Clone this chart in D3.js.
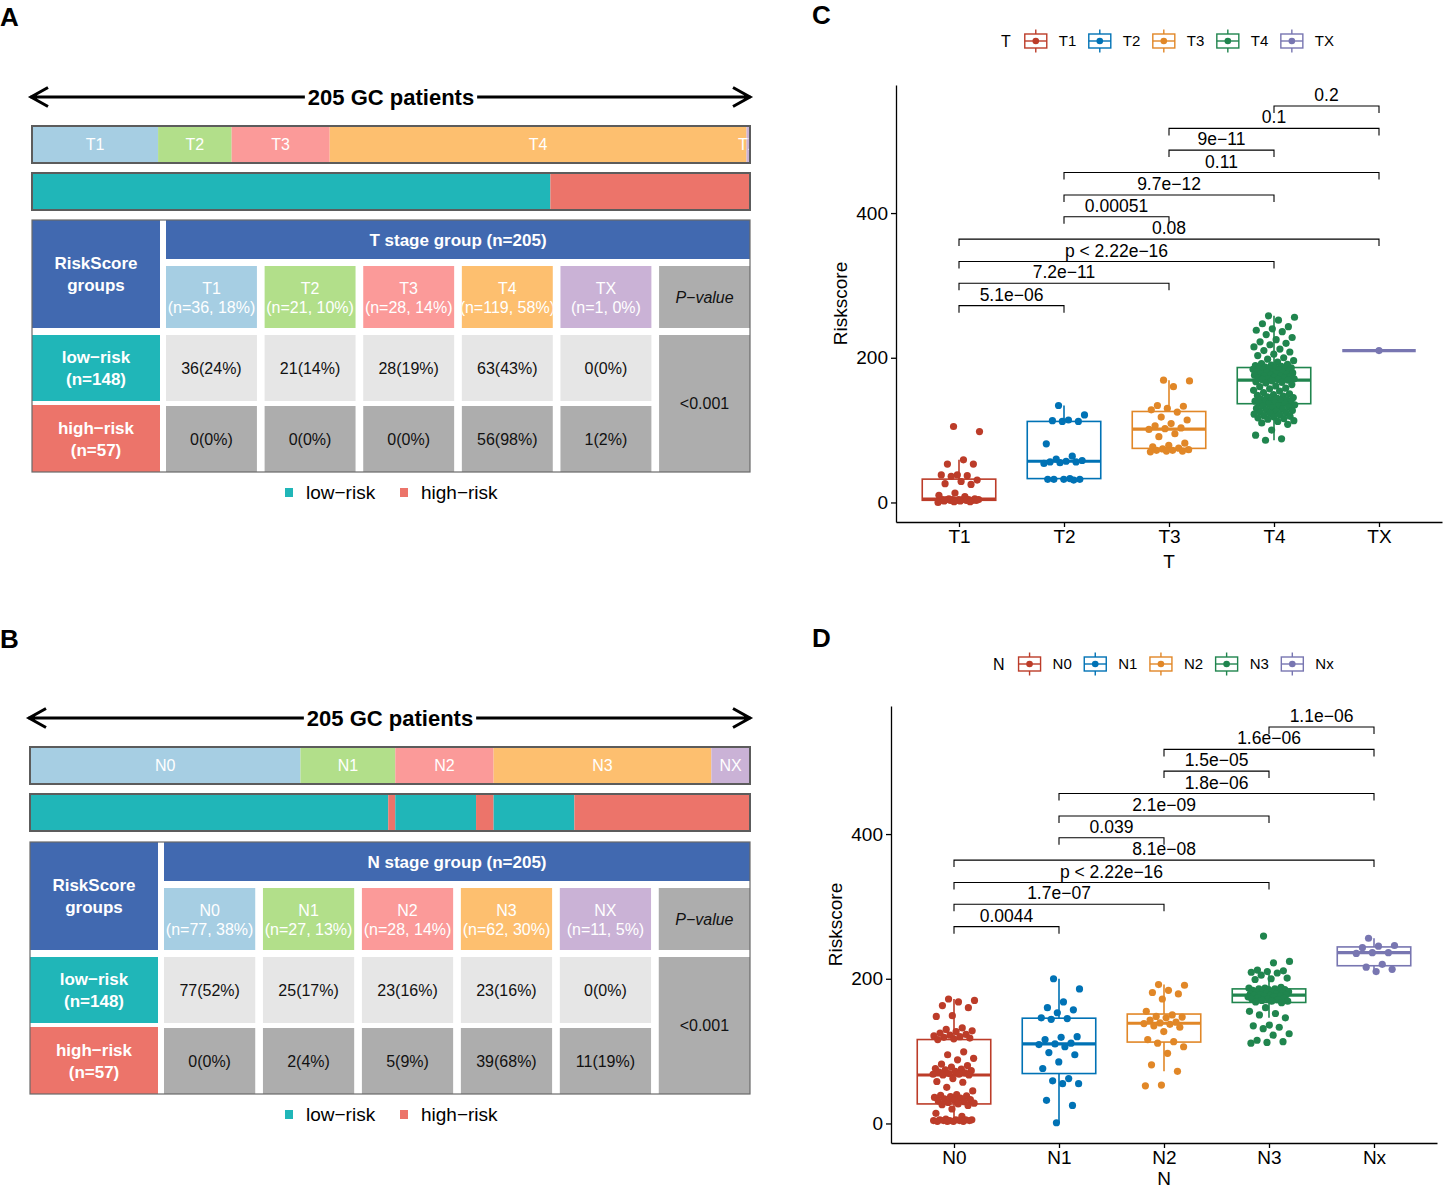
<!DOCTYPE html>
<html>
<head>
<meta charset="utf-8">
<script src="https://cdn.jsdelivr.net/npm/d3@7"></script>
<style>
  body { margin: 0; background: #fff; }
</style>
</head>
<body>
<svg id="fig" width="1444" height="1189"></svg>
<script>

// ---------- data ----------

const tStages = ["T1", "T2", "T3", "T4", "TX"]
const tLow = [36, 21, 28, 63, 0]
const tHigh = [0, 0, 0, 56, 1]

const nStages = ["N0", "N1", "N2", "N3", "NX"]
const nLow = [77, 25, 23, 23, 0]
const nHigh = [0, 2, 5, 39, 11]

const pTable = "<0.001"

const tGroups = ["T1", "T2", "T3", "T4", "TX"]
const riskT1 = [105, 98, 59, 53, 53, 38, 38, 37, 36, 31, 29, 26, 25, 13, 10, 8, 5, 5, 4, 4, 4, 4, 4, 4, 4, 3, 3, 3, 3, 3, 3, 2, 2, 1, 1, 0]
const riskT2 = [134, 121, 114, 113, 112, 112, 81, 64, 60, 58, 57, 56, 56, 55, 54, 33, 32, 32, 32, 32, 31]
const riskT3 = [169, 168, 160, 134, 133, 130, 128, 125, 118, 114, 109, 106, 103, 102, 101, 95, 91, 82, 79, 77, 75, 74, 73, 72, 72, 71, 71, 70]
const riskT4 = [258, 256, 252, 247, 243, 240, 238, 236, 232, 228, 225, 222, 220, 218, 215, 212, 210, 208, 205, 203, 200, 198,
  196, 194, 192, 191, 190, 189, 188, 187, 186, 186, 185, 185, 185, 184,
  183, 183, 182, 181, 181, 180, 180, 179, 178, 178, 177, 176, 176, 175, 175, 174, 173, 172, 172, 171, 171, 170, 170, 169,
  168, 167, 166, 165, 163, 161, 160, 158, 157, 155, 154, 152, 150, 149, 148, 147, 146, 145, 144, 143, 142, 141, 140, 140, 139, 139, 138, 138, 137,
  136, 135, 134, 133, 132, 131, 130, 129, 128, 127, 126, 125, 124, 123, 122, 121, 120, 119, 118, 117, 116, 115, 113, 112, 110, 108, 100, 93, 88, 86]
const riskTX = [210]

const nGroups = ["N0", "N1", "N2", "N3", "Nx"]
const riskN0 = [172, 170, 168, 163, 160, 149, 148, 132, 130, 128, 127, 125, 123, 122, 121, 120, 119, 118, 117, 116,
  99, 95, 90, 88, 82, 80, 78, 76, 75, 74, 73, 72, 71, 70, 69, 68, 68, 67, 67, 62, 58, 57, 50, 45,
  40, 39, 38, 37, 36, 35, 34, 33, 32, 31, 30, 29, 28, 27, 26, 25, 20, 14, 10, 6, 5, 5, 5, 5, 4, 4, 4, 4, 4, 3, 3, 3, 3]
const riskN1 = [200, 186, 168, 160, 157, 153, 146, 145, 144, 120, 119, 116, 111, 110, 109, 106, 98, 95, 85, 76, 62, 59, 55, 55, 32, 25, 1]
const riskN2 = [192, 191, 184, 181, 179, 172, 155, 150, 148, 147, 146, 143, 140, 139, 138, 137, 135, 133, 127, 116, 113, 111, 106, 97, 81, 72, 53, 52]
const riskN3 = [259, 224, 222, 212, 211, 210, 209, 208, 205, 201, 200, 199,
  188, 187, 187, 186, 186, 185, 185, 184, 184, 183, 182, 182, 181, 180, 180, 179, 179, 178, 178, 177, 177, 176, 176, 175, 175, 174, 173, 172, 172, 171, 170, 169, 169, 168, 167,
  160, 155, 152, 150, 146, 136, 135, 133, 131, 124, 122, 115, 113, 112, 111]
const riskNx = [256, 246, 245, 243, 236, 236, 235, 220, 216, 213, 210]

// pairwise comparisons, in drawing order from bottom to top
const pairs = [[0, 1], [0, 2], [0, 3], [0, 4], [1, 2], [1, 3], [1, 4], [2, 3], [2, 4], [3, 4]]
const bracketY = [272, 303, 333, 364, 395, 425, 456, 487, 517, 548]
const tPvals = ["5.1e\u221206", "7.2e\u221211", "p < 2.22e\u221216", "0.08", "0.00051", "9.7e\u221212", "0.11", "9e\u221211", "0.1", "0.2"]
const nPvals = ["0.0044", "1.7e\u221207", "p < 2.22e\u221216", "8.1e\u221208", "0.039", "2.1e\u221209", "1.8e\u221206", "1.5e\u221205", "1.6e\u221206", "1.1e\u221206"]

const yTicks = [0, 200, 400]
const yDomain = [-27, 577]

// ---------- styles ----------

const sans = "'Liberation Sans', Arial, Helvetica, sans-serif"
const stageColors = ["#A6CEE3", "#B2DF8A", "#FB9A99", "#FDBF6F", "#CAB2D6"]
const lowCol = "#20B6B8"
const highCol = "#EC746A"
const headBlue = "#4169B0"
const boxColors = ["#BC3C29", "#0072B5", "#E18727", "#20854E", "#7876B1"]

const svg = d3.select("#fig")

function label(txt, x, y) {
  svg.append("text").attr("x", x).attr("y", y)
    .attr("font-family", sans).attr("font-weight", "bold").attr("font-size", 26)
    .text(txt)
}

label("A", 0, 26)
label("B", 0, 648)
label("C", 812, 24)
label("D", 812, 647)


// ---------- panels A / B ----------

function stagePanel(cfg) {

  const g = svg.append("g")
  const x0 = cfg.x0, x1 = cfg.x1
  const counts = cfg.low.map((d, i) => d + cfg.high[i])
  const total = d3.sum(counts)
  const totLow = d3.sum(cfg.low), totHigh = d3.sum(cfg.high)
  const xb = d3.scaleLinear().domain([0, total]).range([x0, x1])
  const mid = (x0 + x1) / 2
  const ay = cfg.arrowY

  /* arrow */

  const cap = g.append("text")
    .attr("x", mid).attr("y", ay).attr("dy", "0.36em")
    .attr("text-anchor", "middle")
    .attr("font-family", sans).attr("font-weight", "bold").attr("font-size", 22)
    .text(`${total} GC patients`)
  const tw = cap.node().getComputedTextLength()
  const a0 = x0 - 2, a1 = x1 + 1
  g.append("path")
    .attr("d", `M${a0},${ay}H${mid - tw / 2 - 3}M${mid + tw / 2 + 3},${ay}H${a1}` +
      `M${a0 + 18},${ay - 9.5}L${a0 + 1},${ay}L${a0 + 18},${ay + 9.5}` +
      `M${a1 - 18},${ay - 9.5}L${a1 - 1},${ay}L${a1 - 18},${ay + 9.5}`)
    .attr("fill", "none").attr("stroke", "#000").attr("stroke-width", 3)

  /* stage bar */

  const barH = 37
  const barClip = `clip-${cfg.id}`
  g.append("clipPath").attr("id", barClip)
    .append("rect").attr("x", x0).attr("y", cfg.stageY).attr("width", x1 - x0).attr("height", barH)
  let cum = 0
  counts.forEach((n, i) => {
    const a = xb(cum), b = xb(cum + n)
    cum += n
    g.append("rect").attr("x", a).attr("y", cfg.stageY).attr("width", b - a).attr("height", barH)
      .attr("fill", stageColors[i])
    g.append("text").attr("clip-path", `url(#${barClip})`)
      .attr("x", (a + b) / 2).attr("y", cfg.stageY + barH / 2).attr("dy", "0.36em")
      .attr("text-anchor", "middle").attr("fill", "#fff")
      .attr("font-family", sans).attr("font-size", 16)
      .text(cfg.stages[i])
  })
  g.append("rect").attr("x", x0).attr("y", cfg.stageY).attr("width", x1 - x0).attr("height", barH)
    .attr("fill", "none").attr("stroke", "#5c5c5c").attr("stroke-width", 2)

  /* risk bar */

  const segs = []
  cfg.low.forEach((l, i) => {
    [["low", l], ["high", cfg.high[i]]].forEach(([r, n]) => {
      if (n === 0) return
      const last = segs[segs.length - 1]
      if (last && last.r === r) last.n += n
      else segs.push({ r, n })
    })
  })
  cum = 0
  segs.forEach(s => {
    g.append("rect").attr("x", xb(cum)).attr("y", cfg.riskY)
      .attr("width", xb(cum + s.n) - xb(cum)).attr("height", barH)
      .attr("fill", s.r === "low" ? lowCol : highCol)
    cum += s.n
  })
  g.append("rect").attr("x", x0).attr("y", cfg.riskY).attr("width", x1 - x0).attr("height", barH)
    .attr("fill", "none").attr("stroke", "#5c5c5c").attr("stroke-width", 2)

  /* table */

  const ty = cfg.tableY
  const rHead = [0, 39], rSub = [46, 108], rLow = [115, 181], rHigh = [186, 252]
  const leftW = 128
  const cols = d3.scaleBand().domain(d3.range(6)).range([x0 + 134, x1]).paddingInner(0.078)

  function cell(x, y, w, h, fill) {
    g.append("rect").attr("x", x).attr("y", y).attr("width", w).attr("height", h).attr("fill", fill)
  }
  function lines(x, y, arr, opts) {
    const t = g.append("text").attr("x", x).attr("y", y).attr("text-anchor", "middle")
      .attr("font-family", sans).attr("font-size", opts.size)
      .attr("font-weight", opts.bold ? "bold" : null)
      .attr("font-style", opts.italic ? "italic" : null)
      .attr("fill", opts.fill)
      .attr("clip-path", opts.clip ? `url(#${opts.clip})` : null)
    const lh = opts.lh || 20
    arr.forEach((s, k) => {
      t.append("tspan").attr("x", x)
        .attr("y", y + (k - (arr.length - 1) / 2) * lh)
        .attr("dy", "0.36em").text(s)
    })
  }

  // left column
  cell(x0, ty + rHead[0], leftW, rSub[1] - rHead[0], headBlue)
  lines(x0 + leftW / 2, ty + rSub[1] / 2, ["RiskScore", "groups"], { size: 17, bold: true, fill: "#fff", lh: 22 })
  cell(x0, ty + rLow[0], leftW, rLow[1] - rLow[0], lowCol)
  lines(x0 + leftW / 2, ty + (rLow[0] + rLow[1]) / 2, ["low\u2212risk", `(n=${totLow})`], { size: 17, bold: true, fill: "#fff", lh: 22 })
  cell(x0, ty + rHigh[0] - 1, leftW, rHigh[1] - rHigh[0] + 1, highCol)
  lines(x0 + leftW / 2, ty + (rHigh[0] + rHigh[1]) / 2, ["high\u2212risk", `(n=${totHigh})`], { size: 17, bold: true, fill: "#fff", lh: 22 })

  // header
  cell(cols(0), ty + rHead[0], x1 - cols(0), rHead[1] - rHead[0], headBlue)
  lines((cols(0) + x1) / 2, ty + (rHead[0] + rHead[1]) / 2, [cfg.title], { size: 17, bold: true, fill: "#fff" })

  const bw = cols.bandwidth()
  cfg.stages.forEach((s, i) => {
    const cx = cols(i)
    const w = bw
    const pct = Math.round(counts[i] / total * 100)
    cell(cx, ty + rSub[0], w, rSub[1] - rSub[0], stageColors[i])
    const id = `clipc-${cfg.id}-${i}`
    g.append("clipPath").attr("id", id)
      .append("rect").attr("x", cx).attr("y", ty + rSub[0]).attr("width", w).attr("height", rSub[1] - rSub[0])
    lines(cx + w / 2, ty + (rSub[0] + rSub[1]) / 2 + 1, [s, `(n=${counts[i]}, ${pct}%)`], { size: 16, fill: "#fff", lh: 19, clip: id })
    cell(cx, ty + rLow[0], w, rLow[1] - rLow[0], "#E6E6E6")
    lines(cx + w / 2, ty + (rLow[0] + rLow[1]) / 2, [`${cfg.low[i]}(${Math.round(cfg.low[i] / totLow * 100)}%)`], { size: 16, fill: "#111" })
    cell(cx, ty + rHigh[0], w, rHigh[1] - rHigh[0], "#ADADAD")
    lines(cx + w / 2, ty + (rHigh[0] + rHigh[1]) / 2, [`${cfg.high[i]}(${Math.round(cfg.high[i] / totHigh * 100)}%)`], { size: 16, fill: "#111" })
  })
  const px = cols(5)
  cell(px, ty + rSub[0], x1 - px, rSub[1] - rSub[0], "#ADADAD")
  lines((px + x1) / 2, ty + (rSub[0] + rSub[1]) / 2, ["P\u2212value"], { size: 16, italic: true, fill: "#111" })
  cell(px, ty + rLow[0], x1 - px, rHigh[1] - rLow[0], "#ADADAD")
  lines((px + x1) / 2, ty + (rLow[0] + rHigh[1]) / 2, [pTable], { size: 16, fill: "#111" })

  g.append("rect").attr("x", x0).attr("y", ty).attr("width", x1 - x0).attr("height", rHigh[1])
    .attr("fill", "none").attr("stroke", "#6a6a6a").attr("stroke-width", 1.2)

  /* legend */

  const ly = cfg.legendY
  g.append("rect").attr("x", 285).attr("y", ly - 4).attr("width", 8).attr("height", 9).attr("fill", lowCol)
  g.append("text").attr("x", 306).attr("y", ly).attr("dy", "0.36em")
    .attr("font-family", sans).attr("font-size", 19).text("low\u2212risk")
  g.append("rect").attr("x", 400).attr("y", ly - 4).attr("width", 8).attr("height", 9).attr("fill", highCol)
  g.append("text").attr("x", 421).attr("y", ly).attr("dy", "0.36em")
    .attr("font-family", sans).attr("font-size", 19).text("high\u2212risk")
}

stagePanel({ id: "a", x0: 32, x1: 750, arrowY: 97, stageY: 126, riskY: 173, tableY: 220, legendY: 492,
  stages: tStages, low: tLow, high: tHigh, title: "T stage group (n=205)" })

stagePanel({ id: "b", x0: 30, x1: 750, arrowY: 718, stageY: 747, riskY: 794, tableY: 842, legendY: 1114,
  stages: nStages, low: nLow, high: nHigh, title: "N stage group (n=205)" })


// ---------- panels C / D ----------

function boxPanel(cfg) {

  const g = svg.append("g")
  const x = d3.scalePoint().domain(cfg.groups).range([cfg.left, cfg.right]).padding(0.6)
  const y = d3.scaleLinear().domain(yDomain).range([cfg.bottom, cfg.top])
  const step = x.step()
  const bw = step * 0.7

  /* axes */

  const ya = g.append("g").attr("transform", `translate(${cfg.left},0)`)
    .call(d3.axisLeft(y).tickValues(yTicks).tickSize(5).tickSizeOuter(0).tickPadding(3))
  const xa = g.append("g").attr("transform", `translate(0,${cfg.bottom})`)
    .call(d3.axisBottom(x).tickSize(5).tickSizeOuter(0).tickPadding(3))
  ;[ya, xa].forEach(a => {
    a.attr("font-family", sans).attr("font-size", 19).attr("color", "#000")
    a.selectAll("path,line").attr("stroke-width", 1.3)
  })

  g.append("text").attr("x", (cfg.left + cfg.right) / 2).attr("y", cfg.bottom + cfg.titleGap).attr("dy", "0.36em")
    .attr("text-anchor", "middle").attr("font-family", sans).attr("font-size", 19).text(cfg.xTitle)
  g.append("text").attr("transform", `translate(${cfg.left - 56},${(cfg.top + cfg.bottom) / 2}) rotate(-90)`)
    .attr("dy", "0.36em").attr("text-anchor", "middle")
    .attr("font-family", sans).attr("font-size", 19).text("Riskscore")

  /* boxes and jittered points */

  cfg.scores.forEach((vals, i) => {
    const s = vals.slice().sort(d3.ascending)
    const q1 = d3.quantile(s, 0.25), med = d3.quantile(s, 0.5), q3 = d3.quantile(s, 0.75)
    const iqr = q3 - q1
    const hi = d3.max(s.filter(v => v <= q3 + 1.5 * iqr))
    const lo = d3.min(s.filter(v => v >= q1 - 1.5 * iqr))
    const cx = x(cfg.groups[i])
    const col = boxColors[i]

    g.append("path")
      .attr("d", `M${cx},${y(q3)}V${y(hi)}M${cx},${y(q1)}V${y(lo)}`)
      .attr("stroke", col).attr("stroke-width", 1.6)
    g.append("rect").attr("x", cx - bw / 2).attr("y", y(q3))
      .attr("width", bw).attr("height", Math.max(0, y(q1) - y(q3)))
      .attr("fill", "#fff").attr("stroke", col).attr("stroke-width", 1.6)
    g.append("line").attr("x1", cx - bw / 2).attr("x2", cx + bw / 2)
      .attr("y1", y(med)).attr("y2", y(med))
      .attr("stroke", col).attr("stroke-width", 3.2)

    const jit = vals.length > 1 ? 0.2 * step : 0
    g.append("g").selectAll("circle").data(vals).join("circle")
      .attr("cx", (d, j) => cx + (((j * 0.618034 + 0.37) % 1) - 0.5) * 2 * jit)
      .attr("cy", d => y(d))
      .attr("r", 3.6)
      .attr("fill", col)
  })

  /* comparison brackets */

  pairs.forEach(([a, b], k) => {
    const xa1 = x(cfg.groups[a]), xb1 = x(cfg.groups[b])
    const yy = y(bracketY[k])
    g.append("path").attr("d", `M${xa1},${yy + 7}V${yy}H${xb1}V${yy + 7}`)
      .attr("fill", "none").attr("stroke", "#000").attr("stroke-width", 1.1)
    g.append("text").attr("x", (xa1 + xb1) / 2).attr("y", yy - 5)
      .attr("text-anchor", "middle").attr("font-family", sans).attr("font-size", 17.5)
      .text(cfg.pvals[k])
  })

  /* legend */

  const ly = cfg.legendY
  const title = g.append("text").attr("x", cfg.legendX).attr("y", ly).attr("dy", "0.36em")
    .attr("font-family", sans).attr("font-size", 16).text(cfg.xTitle)
  let kx = cfg.legendX + title.node().getComputedTextLength() + 25
  cfg.groups.forEach((grp, i) => {
    const col = boxColors[i]
    const kg = g.append("g").attr("stroke", col).attr("stroke-width", 1.4).attr("fill", "none")
    kg.append("path").attr("d", `M${kx},${ly - 11.5}V${ly - 7}M${kx},${ly + 7}V${ly + 11.5}`)
    kg.append("rect").attr("x", kx - 11).attr("y", ly - 7).attr("width", 22).attr("height", 14).attr("fill", "#fff")
    kg.append("line").attr("x1", kx - 11).attr("x2", kx + 11).attr("y1", ly).attr("y2", ly)
    g.append("circle").attr("cx", kx).attr("cy", ly).attr("r", 3.3).attr("fill", col)
    const t = g.append("text").attr("x", kx + 23).attr("y", ly).attr("dy", "0.36em")
      .attr("font-family", sans).attr("font-size", 15).text(grp)
    kx += 23 + t.node().getComputedTextLength() + 12.5 + 11
  })
}

boxPanel({ groups: tGroups, scores: [riskT1, riskT2, riskT3, riskT4, riskTX], pvals: tPvals,
  left: 896, right: 1442, top: 85, bottom: 522, xTitle: "T", titleGap: 39, legendX: 1001, legendY: 41 })

boxPanel({ groups: nGroups, scores: [riskN0, riskN1, riskN2, riskN3, riskNx], pvals: nPvals,
  left: 891, right: 1437, top: 706, bottom: 1143, xTitle: "N", titleGap: 35, legendX: 993, legendY: 664 })

</script>
</body>
</html>
